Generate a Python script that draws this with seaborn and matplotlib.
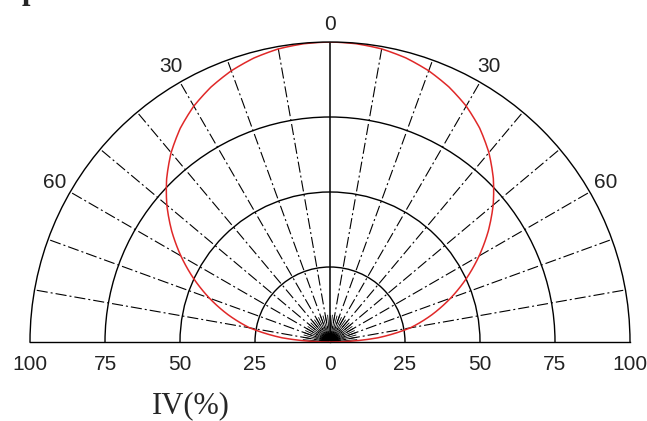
import numpy as np
import matplotlib
matplotlib.use("Agg")
import matplotlib.pyplot as plt
import seaborn as sns

angulos = [-90, -85, -80, -75, -70, -65, -60, -55, -50, -45, -40, -35, -30, -25,
           -20, -15, -10, -5, 0, 5, 10, 15, 20, 25, 30, 35, 40, 45, 50, 55, 60,
           65, 70, 75, 80, 85, 90]
intensidad = [0, 16, 27.2, 35.2, 42.8, 50.2, 57.4, 64.4, 71, 77, 82.4, 87, 90.8,
              93.8, 96.2, 98, 99.2, 99.8, 100, 99.8, 99.2, 98, 96.2, 93.8, 90.8,
              87, 82.4, 77, 71, 64.4, 57.4, 50.2, 42.8, 35.2, 27.2, 16, 0]

anillos = [25, 50, 75]
radiales = [-80, -70, -60, -50, -40, -30, -20, -10, 10, 20, 30, 40, 50, 60, 70, 80]
etiq_angulo = [-60, -30, 0, 30, 60]
etiq_base = [100, 75, 50, 25, 0, 25, 50, 75, 100]
pos_base = [-100, -75, -50, -25, 0, 25, 50, 75, 100]

sns.set_style("white")
plt.rcParams['font.family'] = ['Liberation Sans', 'DejaVu Sans']

fig = plt.figure(figsize=(6.47, 4.21), dpi=100)
W, H = 647, 421
ax = fig.add_axes([30 / W, -71 / H, 600 / W, 600 / H], projection='polar')
ax.set_theta_zero_location('N')
ax.set_theta_direction(-1)
ax.set_thetamin(-90)
ax.set_thetamax(90)
ax.set_rlim(0, 100)

# rejilla
ax.set_xticks(np.deg2rad(radiales))
ax.set_xticklabels([])
ax.set_yticks(anillos)
ax.set_yticklabels([])
ax.tick_params(length=0)
ax.xaxis.grid(True, color='black', lw=0.8, linestyle=(0, (10, 2.7, 1.8, 2.7)))
ax.yaxis.grid(True, color='black', lw=1.0, linestyle='-')
for s in ax.spines.values():
    s.set_color('black')
    s.set_linewidth(1.0)

# eje central y detalle del origen
ax.plot([0, 0], [0, 100], color='black', lw=1.1)
for a in range(-85, 90, 5):
    ax.plot([np.deg2rad(a)] * 2, [1.5, 9], color='black', lw=0.6)
th_c = np.deg2rad(np.arange(-90, 91, 5))
ax.fill(np.r_[th_c, 0], np.r_[np.full(len(th_c), 3.0), 0], color='black', lw=0)

# curva de radiación
sns.lineplot(x=np.deg2rad(angulos), y=intensidad, ax=ax, color='#e02828',
             lw=1.1, sort=False, legend=False)
ax.lines[-1].get_path()._interpolation_steps = 10  # arcos suaves en polar

# etiquetas de ángulo
for a in etiq_angulo:
    ax.text(np.deg2rad(a), 106, str(abs(a)), ha='center', va='center',
            fontsize=15, color='#222222')

# etiquetas de la base
for p, t in zip(pos_base, etiq_base):
    th = np.deg2rad(90 if p >= 0 else -90)
    ax.annotate(str(t), xy=(th, abs(p)), xytext=(0, -16), textcoords='offset points',
                ha='center', va='center', fontsize=15, color='#222222',
                annotation_clip=False)

fig.text(191 / W, 1 - 413 / H, 'IV(%)', ha='center', va='baseline',
         fontsize=22, family='Liberation Serif')
fig.text(22 / W, 1 + 1.5 / H, 'p', ha='left', va='baseline', fontsize=22,
         fontweight='bold', family='Liberation Serif')

fig.savefig('out.png', dpi=100)
